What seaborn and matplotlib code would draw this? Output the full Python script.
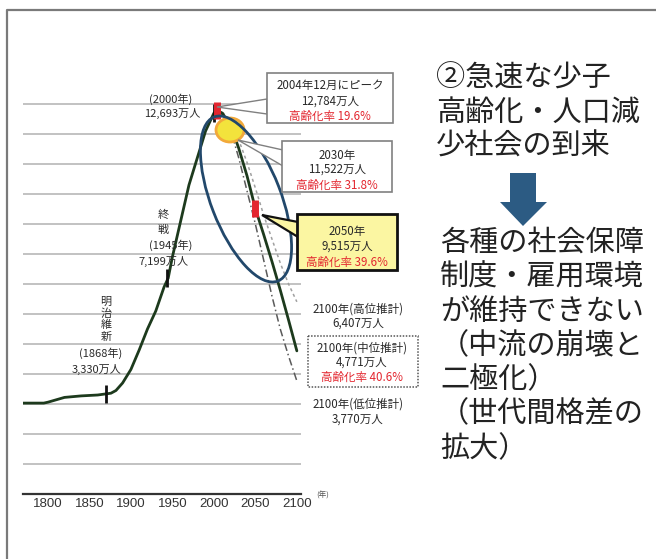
import matplotlib.pyplot as plt
import matplotlib.patches as mpatches
from matplotlib.lines import Line2D
from matplotlib.transforms import Affine2D
import pandas as pd
import seaborn as sns

# 日本の総人口（万人）: 実績
hist_years = [1770, 1795, 1800, 1820, 1840, 1860, 1868, 1876, 1882, 1890, 1900, 1910,
              1920, 1930, 1940, 1945, 1950, 1960, 1970, 1980, 1990, 2000, 2004]
hist_pop = [3030, 3030, 3060, 3220, 3270, 3300, 3330, 3360, 3450, 3700, 4150, 4800,
            5500, 6100, 6900, 7199, 7900, 9100, 10300, 11200, 12100, 12693, 12784]

# 将来推計（中位・高位・低位）
proj_years = [2004, 2010, 2020, 2030, 2040, 2050, 2060, 2070, 2080, 2090, 2100]
mid_pop = [12784, 12700, 12300, 11522, 10600, 9515, 8650, 7750, 6800, 5800, 4771]
high_pop = [12784, 12750, 12400, 11800, 11050, 10200, 9300, 8500, 7700, 7000, 6407]
low_pop = [12784, 12650, 12150, 11200, 10100, 9000, 7800, 6600, 5500, 4600, 3770]

# 目盛り付きの節目
tick_years = [1870, 1943, 2000]
tick_pop = [3330, 7199, 12693]
red_years = [2004, 2050]
red_pop = [12784, 9515]

x_ticks = [1800, 1850, 1900, 1950, 2000, 2050, 2100]
grid_levels = list(range(1000, 13001, 1000))

hist = pd.DataFrame({"year": hist_years, "pop": hist_pop})
proj = pd.DataFrame({"year": proj_years, "mid": mid_pop, "high": high_pop, "low": low_pop})

sns.set_style("white")
plt.rcParams["font.family"] = ["Noto Sans CJK JP", "DejaVu Sans"]

W, H = 656, 559
fig = plt.figure(figsize=(W / 100, H / 100), dpi=100)
ax = fig.add_axes([23 / W, 65 / H, 278 / W, 399 / H])

# image-pixel coordinates (y down) for decorations
img = Affine2D().scale(1 / W, -1 / H).translate(0, 1) + fig.transFigure

sns.lineplot(data=proj, x="year", y="high", ax=ax, color="#a0a0a0", lw=1.1,
             linestyle=(0, (2, 2)))
sns.lineplot(data=proj, x="year", y="low", ax=ax, color="#5a5a5a", lw=1.1,
             linestyle=(0, (5, 2, 1, 2)))
sns.lineplot(data=hist, x="year", y="pop", ax=ax, color="#1d3a1d", lw=2)
sns.lineplot(data=proj, x="year", y="mid", ax=ax, color="#1d3a1d", lw=2)

ax.vlines(tick_years, [p - 300 for p in tick_pop], [p + 300 for p in tick_pop],
          color="#111111", lw=2, zorder=5)
ax.vlines(red_years, [p - 280 for p in red_pop], [p + 280 for p in red_pop],
          color="#e3262f", lw=5, zorder=6)

ax.set_xlim(1770, 2105)
ax.set_ylim(0, 13300)
ax.set_yticks(grid_levels)
ax.set_yticklabels([])
ax.set_xticks(x_ticks)
ax.set_xticklabels([str(t) for t in x_ticks], fontsize=9.5, color="#333333",
                   family="Liberation Sans")
ax.tick_params(length=0, pad=3)
ax.grid(axis="y", color="#b8b8b8", lw=1.2)
ax.grid(axis="x", visible=False)
for side in ["left", "right", "top"]:
    ax.spines[side].set_visible(False)
ax.spines["bottom"].set_color("#333333")
ax.spines["bottom"].set_linewidth(1.6)
ax.set_xlabel("")
ax.set_ylabel("")
ax.set_facecolor("none")

# outer frame (top and left only)
fig.add_artist(Line2D([7, 7, W], [H, 10, 10], transform=img, color="#7a7a7a", lw=1.6))


def label(x, y, s, size=8, color="#2a2a2a", **kw):
    fig.text(x, y, s, transform=img, ha="center", va="center", fontsize=size,
             color=color, **kw)


def poly(points, **kw):
    fig.add_artist(mpatches.Polygon(points, closed=True, transform=img, **kw))


# yellow highlight and blue ellipse
fig.add_artist(mpatches.Ellipse((230, 130), 28, 24, transform=img,
                                facecolor="#f3e33c", edgecolor="#f2a93a", lw=2))
fig.add_artist(mpatches.Ellipse((246, 199), 176, 70, angle=68.8, transform=img,
                                facecolor="none", edgecolor="#22486b", lw=2))

# point labels
label(171, 99, "(2000年)")
label(172, 113, "12,693万人")
for i, ch in enumerate("終戦"):
    label(163, 215 + i * 15, ch)
label(171, 245, "(1945年)")
label(164, 261, "7,199万人")
for i, ch in enumerate("明治維新"):
    label(106, 302 + i * 11.5, ch)
label(101, 353, "(1868年)")
label(97, 369, "3,330万人")

# callout boxes
poly([(267, 99), (217, 107), (267, 114)], facecolor="white", edgecolor="#808080", lw=1)
fig.add_artist(mpatches.Rectangle((267, 73), 126, 50, transform=img,
                                  facecolor="white", edgecolor="#808080", lw=1.2))
label(330, 85, "2004年12月にピーク", size=8.3)
label(330, 101, "12,784万人", size=8.3)
label(330, 116, "高齢化率 19.6%", size=8.3, color="#e3262f")

poly([(283, 150), (238, 140), (283, 166)], facecolor="white", edgecolor="#808080", lw=1)
fig.add_artist(mpatches.Rectangle((282, 141), 110, 51, transform=img,
                                  facecolor="white", edgecolor="#808080", lw=1.2))
label(337, 155, "2030年", size=8.3)
label(337, 169, "11,522万人", size=8.3)
label(337, 185, "高齢化率 31.8%", size=8.3, color="#e3262f")

poly([(298, 222), (262, 215), (298, 237)], facecolor="#fbf6a2", edgecolor="#111111", lw=1.6)
fig.add_artist(mpatches.Rectangle((297, 214), 100, 56, transform=img,
                                  facecolor="#fbf6a2", edgecolor="#111111", lw=2))
label(347, 231, "2050年", size=8.3)
label(347, 246, "9,515万人", size=8.3)
label(347, 262, "高齢化率 39.6%", size=8.3, color="#e3262f")

label(358, 309, "2100年(高位推計)", size=8.3)
label(358, 323, "6,407万人", size=8.3)

fig.add_artist(mpatches.Rectangle((308, 336), 110, 51, transform=img, facecolor="white",
                                  edgecolor="#555555", lw=1.1, linestyle=(0, (1, 1))))
label(362, 348, "2100年(中位推計)", size=8.3)
label(362, 362, "4,771万人", size=8.3)
label(362, 377, "高齢化率 40.6%", size=8.3, color="#e3262f")

label(358, 404, "2100年(低位推計)", size=8.3)
label(358, 419, "3,770万人", size=8.3)

label(323, 496, "(年)", size=5.5, color="#555555")

# right-hand message
top_lines = ["②急速な少子", "高齢化・人口減", "少社会の到来"]
for i, s in enumerate(top_lines):
    fig.text(436, 79 + i * 34, s, transform=img, ha="left", va="center",
             fontsize=21, color="#222222")

poly([(510, 173), (536, 173), (536, 202), (547, 202), (523, 226), (500, 202), (510, 202)],
     facecolor="#2c5b83", edgecolor="none")

bottom_lines = ["各種の社会保障", "制度・雇用環境", "が維持できない", "（中流の崩壊と",
                "二極化）", "（世代間格差の", "拡大）"]
for i, s in enumerate(bottom_lines):
    fig.text(440, 243 + i * 34.3, s, transform=img, ha="left", va="center",
             fontsize=21, color="#222222")

fig.savefig("out.png", dpi=100)
